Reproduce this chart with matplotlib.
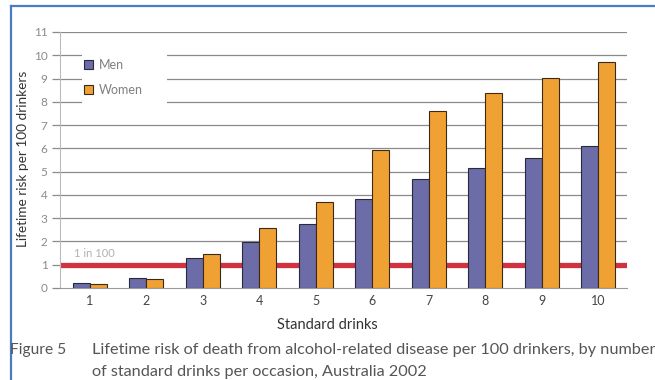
import matplotlib
matplotlib.use("Agg")
import matplotlib.pyplot as plt
import numpy as np
from matplotlib.lines import Line2D
from matplotlib.patches import Rectangle

categories = [1, 2, 3, 4, 5, 6, 7, 8, 9, 10]
men = [0.23, 0.44, 1.27, 1.99, 2.75, 3.81, 4.67, 5.16, 5.59, 6.11]
women = [0.17, 0.40, 1.45, 2.56, 3.68, 5.92, 7.60, 8.36, 9.04, 9.70]
yticks = list(range(0, 12))
threshold = 1
threshold_label = "1 in 100"

plt.rcParams['font.family'] = ['Lato', 'DejaVu Sans']

W, H = 655, 380
fig = plt.figure(figsize=(W / 100, H / 100), dpi=100)
fig.patch.set_facecolor('white')

L, R, T, B = 60, 627, 32, 288
ax = fig.add_axes([L / W, (H - B) / H, (R - L) / W, (B - T) / H])
x = np.array(categories, dtype=float)
bw = 0.3
ax.bar(x - bw / 2, men, width=bw, color='#6b6ca8', edgecolor='#2a2a3a',
       linewidth=0.8, zorder=3, label='Men')
ax.bar(x + bw / 2, women, width=bw, color='#f0a133', edgecolor='#3a2a1a',
       linewidth=0.8, zorder=3, label='Women')

ax.set_xlim(0.47, 10.51)
ax.set_ylim(0, 11)
for v in yticks[1:]:
    ax.axhline(v, color='#8a8a8a', linewidth=0.9, zorder=1)
ax.axhline(threshold, color='#d2323f', linewidth=3.8, zorder=2)
ax.text(0.72, threshold + 0.25, threshold_label, color='#b0b0b0', fontsize=8,
        ha='left', va='bottom', zorder=2)

# white area behind legend (interrupts gridlines)
def px2ax(px, py):
    return (px - L) / (R - L), (B - py) / (B - T)
x0, y0 = px2ax(82, 108)
x1, y1 = px2ax(167, 46)
ax.add_patch(Rectangle((x0, y0), x1 - x0, y1 - y0, transform=ax.transAxes,
                       facecolor='white', edgecolor='none', zorder=1.5))

for s in ['top', 'right']:
    ax.spines[s].set_visible(False)
ax.spines['left'].set_color('#bbbbbb')
ax.spines['left'].set_linewidth(0.8)
ax.spines['bottom'].set_color('#9a9a9a')
ax.spines['bottom'].set_linewidth(0.8)

ax.set_yticks(yticks)
ax.set_yticklabels([str(v) for v in yticks], color='#8a8a8a', fontsize=8.5)
ax.tick_params(axis='y', length=6, color='#8a8a8a', width=0.9, pad=3)
ax.set_xticks(x)
ax.set_xticklabels([str(c) for c in categories], color='#444444', fontsize=9)
ax.tick_params(axis='x', length=0, pad=5)

ax.set_ylabel('Lifetime risk per 100 drinkers', fontsize=9.8, color='#333333')
ax.yaxis.set_label_coords((29 - L) / (R - L), (B - 159) / (B - T))
ax.set_xlabel('Standard drinks', fontsize=10.5, color='#333333')
ax.xaxis.set_label_coords((327 - L) / (R - L), (B - 318) / (B - T))

lx, ly = px2ax(84, 59)
leg = ax.legend(loc='upper left', bbox_to_anchor=(lx, ly), frameon=False,
                fontsize=9, handlelength=0.75, handleheight=0.75,
                handletextpad=0.45, labelspacing=1.0, borderpad=0.0,
                borderaxespad=0.0)
leg.set_zorder(5)
for t in leg.get_texts():
    t.set_color('#808080')

fig.text(10 / W, 1 - 350 / H, 'Figure 5', fontsize=11.2, color='#555555', va='center')
fig.text(92 / W, 1 - 350 / H,
         'Lifetime risk of death from alcohol-related disease per 100 drinkers, by number',
         fontsize=11.7, color='#555555', va='center')
fig.text(92 / W, 1 - 372 / H, 'of standard drinks per occasion, Australia 2002',
         fontsize=11.7, color='#555555', va='center')

# blue frame
fig.add_artist(Line2D([11 / W, 11 / W], [0, 1 - 6 / H], color='#4a7cc4', linewidth=1.6,
                      transform=fig.transFigure))
fig.add_artist(Line2D([11 / W, 1], [1 - 6 / H, 1 - 6 / H], color='#4a7cc4', linewidth=1.6,
                      transform=fig.transFigure))

fig.savefig('out.png', dpi=100)
